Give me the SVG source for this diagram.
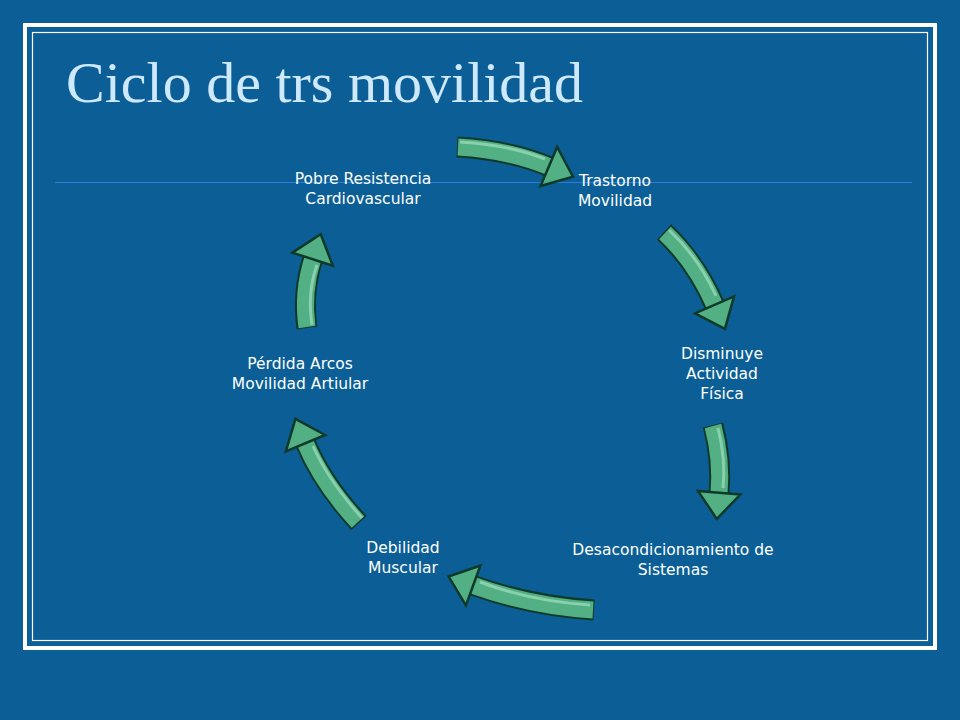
<svg xmlns="http://www.w3.org/2000/svg" width="960" height="720" viewBox="0 0 960 720">
<defs>
<style>
.lbl{font-family:"DejaVu Sans",Verdana,sans-serif;font-size:15.5px;fill:#fff;text-anchor:middle}
.sh{fill:none;stroke:#0f3a2a;stroke-width:21}
.gr{fill:none;stroke:#52b084;stroke-width:17}
.hl{fill:none;stroke:#9fe0bd;stroke-width:3;opacity:.7}
</style>
<marker id="h" markerUnits="userSpaceOnUse" orient="auto" refX="0" refY="0" markerWidth="60" markerHeight="60" viewBox="-2 -24 30 48" overflow="visible">
<polygon points="-1,-17 20,0 -1,17" fill="#52b084" stroke="#0f3a2a" stroke-width="2"/>
</marker>
</defs>
<rect width="960" height="720" fill="#0b5f96"/>
<rect x="25" y="25" width="910" height="623" fill="none" stroke="#fff" stroke-width="4"/>
<rect x="32.5" y="32.5" width="895" height="608" fill="none" stroke="#fff" stroke-width="1.2"/>
<line x1="55" y1="182.5" x2="912" y2="182.5" stroke="#2a7de0" stroke-width="1.2"/>
<text x="66" y="102" font-family="Liberation Serif,Times New Roman,serif" font-size="58" fill="#cde9fb">Ciclo de trs movilidad</text>
<g id="connectors">
<g><path class="sh" d="M457,147 Q510,150 550,167"/><path class="gr" d="M458,147 Q510,150 550,167" marker-end="url(#h)"/><path class="hl" d="M460,142 Q510,145 545,159"/></g>
<g><path class="sh" d="M664,232 Q696,262 715,306"/><path class="gr" d="M665,233 Q696,262 715,306" marker-end="url(#h)"/><path class="hl" d="M669,230 Q699,258 716,296"/></g>
<g><path class="sh" d="M713,425 Q722,460 719,494"/><path class="gr" d="M713,426 Q722,460 719,494" marker-end="url(#h)"/><path class="hl" d="M718,428 Q726,460 723,488"/></g>
<g><path class="sh" d="M594,610 Q530,606 472,585"/><path class="gr" d="M593,610 Q530,606 472,585" marker-end="url(#h)"/><path class="hl" d="M590,605 Q530,601 480,582"/></g>
<g><path class="sh" d="M359,523 Q322,483 305,442"/><path class="gr" d="M358,522 Q322,483 305,442" marker-end="url(#h)"/><path class="hl" d="M362,518 Q328,480 313,446"/></g>
<g><path class="sh" d="M307,328 Q302,292 313,258"/><path class="gr" d="M307,327 Q302,292 313,258" marker-end="url(#h)"/><path class="hl" d="M312,325 Q307,292 317,265"/></g>
</g>
<g id="n1"><text class="lbl" x="615" y="186">Trastorno</text><text class="lbl" x="615" y="206">Movilidad</text></g>
<g id="n2"><text class="lbl" x="722" y="359">Disminuye</text><text class="lbl" x="722" y="379">Actividad</text><text class="lbl" x="722" y="399">Física</text></g>
<g id="n3"><text class="lbl" x="673" y="555">Desacondicionamiento de</text><text class="lbl" x="673" y="575">Sistemas</text></g>
<g id="n4"><text class="lbl" x="403" y="553">Debilidad</text><text class="lbl" x="403" y="573">Muscular</text></g>
<g id="n5"><text class="lbl" x="300" y="369">Pérdida Arcos</text><text class="lbl" x="300" y="389">Movilidad Artiular</text></g>
<g id="n6"><text class="lbl" x="363" y="184">Pobre Resistencia</text><text class="lbl" x="363" y="204">Cardiovascular</text></g>
</svg>
